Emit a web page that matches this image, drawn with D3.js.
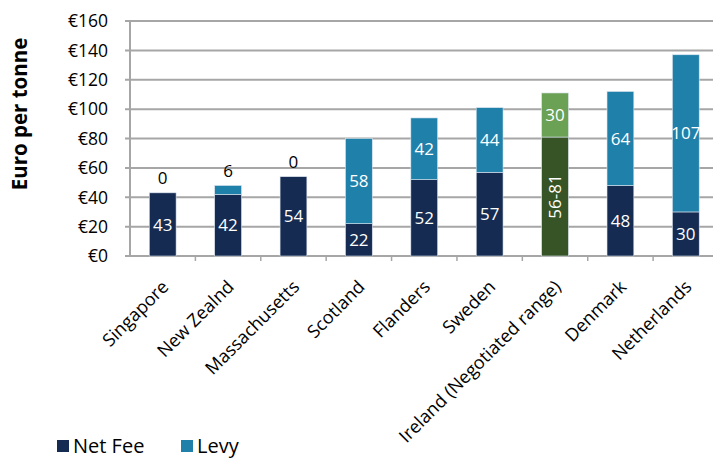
<!DOCTYPE html>
<html><head><meta charset="utf-8">
<script src="https://cdn.jsdelivr.net/npm/d3@7"></script>
<style>
html,body{margin:0;padding:0;background:#fff;}
svg{display:block;font-family:"Open Sans",sans-serif;}
</style></head>
<body><svg id="c" width="713" height="459"></svg>
<script>
const categories = ["Singapore","New Zealnd","Massachusetts","Scotland","Flanders","Sweden","Ireland (Negotiated range)","Denmark","Netherlands"];
const netFee = [43,42,54,22,52,57,81,48,30];
const levy = [0,6,0,58,42,44,30,64,107];
const netFeeLabels = ["43","42","54","22","52","57","56-81","48","30"];
const levyLabels = ["0","6","0","58","42","44","30","64","107"];
const rangeCategories = ["Ireland (Negotiated range)"];
const yTicks = [0,20,40,60,80,100,120,140,160];
const seriesNames = ["Net Fee","Levy"];

(function(){
const C = {net:"#152b51", levy:"#1f80aa", netR:"#375427", levyR:"#6aa155", grid:"#a6a6a6"};
const svg = d3.select("#c");
const pl = 130, pr = 718.5, pt = 21, pb = 256;

const x = d3.scaleBand().domain(categories).range([pl,pr]).paddingInner(0.59).paddingOuter(0.295);
const xc = d3.scaleBand().domain(categories).range([pl,pr]);
const y = d3.scaleLinear().domain([0,160]).range([pb,pt]);

svg.append("g").selectAll("line").data(yTicks).join("line")
  .attr("x1",pl-5).attr("x2",713).attr("y1",d=>y(d)).attr("y2",d=>y(d))
  .attr("stroke",C.grid).attr("stroke-width",2);
svg.append("line").attr("x1",pl).attr("x2",pl).attr("y1",pt).attr("y2",pb+1)
  .attr("stroke",C.grid).attr("stroke-width",2);
svg.append("g").selectAll("line").data(categories).join("line")
  .attr("x1",d=>xc(d)+xc.bandwidth()).attr("x2",d=>xc(d)+xc.bandwidth())
  .attr("y1",pb).attr("y2",pb+5).attr("stroke",C.grid).attr("stroke-width",1.5);

svg.append("g").selectAll("text").data(yTicks).join("text")
  .attr("x",108).attr("y",d=>y(d)).attr("dy","0.36em").attr("text-anchor","end")
  .attr("font-size",17.5).attr("fill","#000").text(d=>"€"+d);

svg.append("text").attr("transform","translate(27,114) rotate(-90)")
  .attr("text-anchor","middle").attr("font-weight","bold").attr("font-size",20.5)
  .attr("fill","#000").text("Euro per tonne");

const isR = d=>rangeCategories.includes(d);
const g = svg.append("g");
categories.forEach((c,i)=>{
  const bx = x(c), bw = x.bandwidth();
  const y0 = y(0), y1 = y(netFee[i]), y2 = y(netFee[i]+levy[i]);
  g.append("rect").attr("x",bx).attr("y",y1).attr("width",bw).attr("height",y0-y1)
    .attr("fill",isR(c)?C.netR:C.net).attr("stroke","#dbe4ef").attr("stroke-width",0.6);
  if(levy[i]>0) g.append("rect").attr("x",bx).attr("y",y2).attr("width",bw).attr("height",y1-y2)
    .attr("fill",isR(c)?C.levyR:C.levy).attr("stroke","#dbe4ef").attr("stroke-width",0.6);
  const cx = bx+bw/2;
  const nt = g.append("text").attr("fill","#fff").attr("font-size",17).attr("text-anchor","middle")
    .text(netFeeLabels[i]);
  if(isR(c)) nt.attr("transform",`translate(${cx},${(y0+y1)/2}) rotate(-90)`).attr("dy","0.36em");
  else nt.attr("x",cx).attr("y",(y0+y1)/2).attr("dy","0.36em");
  if(levy[i] >= 10){
    g.append("text").attr("fill","#fff").attr("font-size",17).attr("text-anchor","middle")
      .attr("x",cx).attr("y",(y1+y2)/2).attr("dy","0.36em").text(levyLabels[i]);
  } else {
    g.append("text").attr("fill","#000").attr("font-size",17).attr("text-anchor","middle")
      .attr("x",cx).attr("y",y2-9).text(levyLabels[i]);
  }
});

svg.append("g").selectAll("text").data(categories).join("text")
  .attr("transform",d=>`translate(${xc(d)+xc.bandwidth()/2+7},${pb+32}) rotate(-45)`)
  .attr("text-anchor","end").attr("font-size",18).attr("fill","#000").text(d=>d);

const lg = svg.append("g");
const lx = [57,181];
seriesNames.forEach((s,i)=>{
  lg.append("rect").attr("x",lx[i]).attr("y",440).attr("width",12).attr("height",12)
    .attr("fill",i===0?C.net:C.levy);
  lg.append("text").attr("x",lx[i]+16).attr("y",446).attr("dy","0.36em")
    .attr("font-size",20).attr("fill","#000").text(s);
});
})();
</script></body></html>
